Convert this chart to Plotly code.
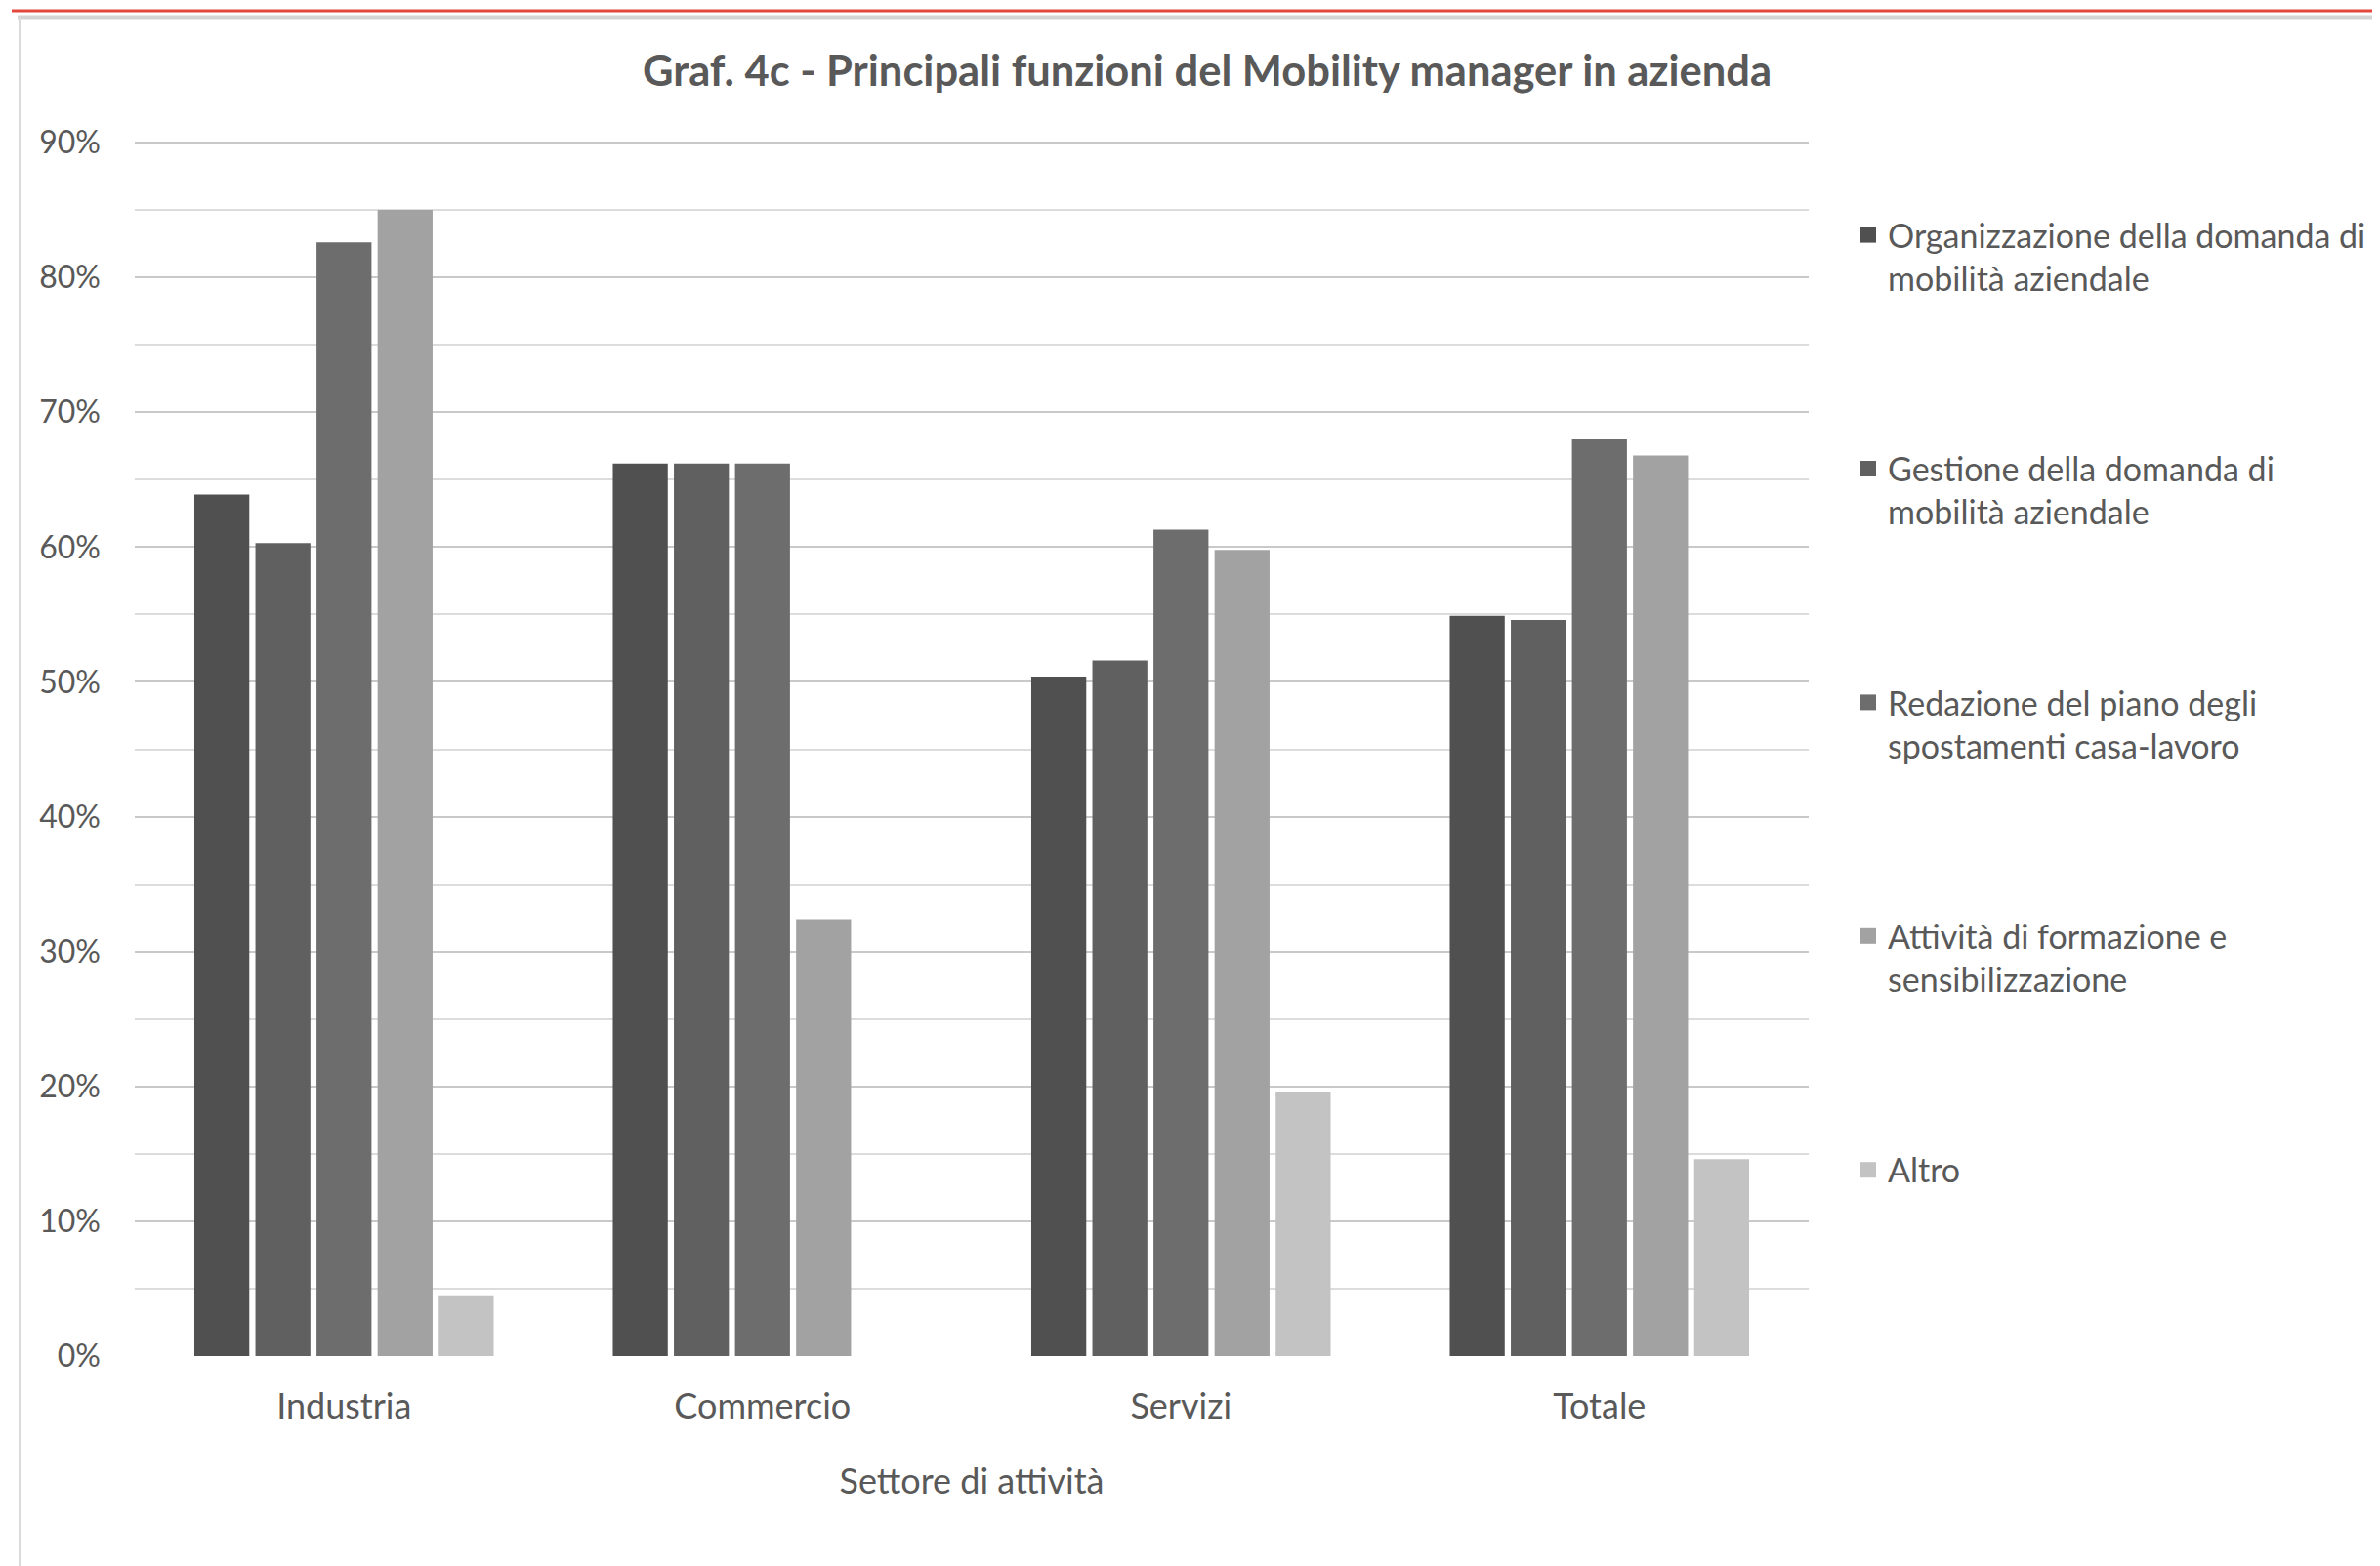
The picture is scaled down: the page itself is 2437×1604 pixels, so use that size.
import plotly.graph_objects as go

categories = ["Industria", "Commercio", "Servizi", "Totale"]
series_names = [
    "Organizzazione della domanda di<br>mobilità aziendale",
    "Gestione della domanda di<br>mobilità aziendale",
    "Redazione del piano degli<br>spostamenti casa-lavoro",
    "Attività di formazione e<br>sensibilizzazione",
    "Altro",
]
organizzazione = [63.9, 66.2, 50.4, 54.9]
gestione = [60.3, 66.2, 51.6, 54.6]
redazione = [82.6, 66.2, 61.3, 68.0]
attivita = [85.0, 32.4, 59.8, 66.8]
altro = [4.5, 0.0, 19.6, 14.6]
colors = ["#505050", "#606060", "#6d6d6d", "#a2a2a2", "#c3c3c3"]

W, H = 2437, 1604
OFF = 8  # page body margin offset
# target page coordinates of the plot area
PL, PR, PT, PB = 138, 1852, 144, 1389
L = PL - OFF
T = PT - OFF
R = W - (PR - OFF)
B = H - (PB - OFF)

FONT = "Lato, 'Open Sans', sans-serif"
TXT = "#595959"

fig = go.Figure()
all_series = [organizzazione, gestione, redazione, attivita, altro]
for i, (name, vals) in enumerate(zip(series_names, all_series)):
    fig.add_trace(go.Bar(
        x=categories, y=vals, name=name,
        marker=dict(color=colors[i], line=dict(width=0)),
        showlegend=False,
    ))
# legend entries with larger square symbols
for i, name in enumerate(series_names):
    fig.add_trace(go.Scatter(
        x=[categories[0]], y=[None], name=name, mode="markers",
        marker=dict(symbol="square", size=16, color=colors[i]),
        legendgroup=f"g{i}", showlegend=True, hoverinfo="skip",
    ))

pw = PR - PL
ph = PB - PT
def px2x(px):  # page px -> paper x
    return (px - PL) / pw
def py2y(py):  # page py -> paper y
    return (PB - py) / ph

shapes = [
    dict(type="line", xref="paper", yref="paper", x0=px2x(12), x1=px2x(2450), y0=py2y(11), y1=py2y(11),
         line=dict(color="#e2473a", width=3)),
    dict(type="line", xref="paper", yref="paper", x0=px2x(18), x1=px2x(2450), y0=py2y(17.5), y1=py2y(17.5),
         line=dict(color="#d4d4d4", width=4)),
    dict(type="line", xref="paper", yref="paper", x0=px2x(20), x1=px2x(20), y0=py2y(17), y1=py2y(1620),
         line=dict(color="#dadada", width=2)),
]

fig.update_layout(
    width=W, height=H,
    margin=dict(l=L, r=R, t=T, b=B, pad=0, autoexpand=False),
    paper_bgcolor="#ffffff",
    plot_bgcolor="rgba(0,0,0,0)",
    barmode="group",
    bargap=0.27,
    bargroupgap=0.1,
    font=dict(family=FONT, color=TXT, size=32),
    title=dict(
        text="<b>Graf. 4c - Principali funzioni del Mobility manager in azienda</b>",
        x=(1236 - OFF) / W, xanchor="center", xref="container",
        y=1 - (73 - OFF) / H, yanchor="middle", yref="container",
        font=dict(family=FONT, size=43.5, color=TXT),
    ),
    xaxis=dict(
        showgrid=False, zeroline=False, showline=False, ticks="",
        tickfont=dict(size=36, color=TXT),
        ticklabelstandoff=27,
        automargin=False,
        title=dict(text="Settore di attività", font=dict(size=36, color=TXT), standoff=44),
    ),
    yaxis=dict(
        range=[0, 90.15], tickvals=[0, 10, 20, 30, 40, 50, 60, 70, 80, 90],
        ticktext=["0%", "10%", "20%", "30%", "40%", "50%", "60%", "70%", "80%", "90%"],
        showgrid=True, gridcolor="#c9c9c9", gridwidth=2,
        zeroline=False, showline=False, ticks="",
        tickfont=dict(size=32, color=TXT),
        ticklabelstandoff=34,
        automargin=False,
        minor=dict(tickvals=[5, 15, 25, 35, 45, 55, 65, 75, 85], showgrid=True, gridcolor="#dcdcdc", gridwidth=2),
    ),
    legend=dict(
        x=px2x(1893), xanchor="left",
        y=py2y(212), yanchor="top",
        font=dict(size=34, color=TXT),
        tracegroupgap=148,
        valign="top",
        bgcolor="rgba(0,0,0,0)",
        itemwidth=30,
    ),
    shapes=shapes,
)

fig.write_html("out.html")
